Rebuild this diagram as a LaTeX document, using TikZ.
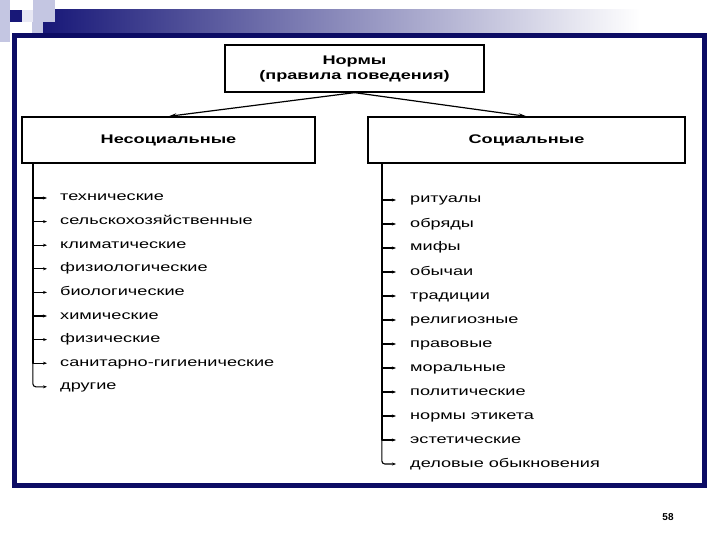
\documentclass[tikz,border=0pt]{standalone}
\usepackage{fontspec}
\setmainfont{Liberation Sans}
\newfontfamily\widefont[FakeStretch=1.45]{Liberation Sans}
\usetikzlibrary{arrows.meta}

\definecolor{framenavy}{RGB}{12,12,100}
\definecolor{barnavy}{RGB}{24,24,120}
\definecolor{lavender}{RGB}{196,198,226}
\definecolor{palelav}{RGB}{232,232,244}

\begin{document}
\begin{tikzpicture}[x=1pt, y=-1pt,
	box/.style={draw, line width=1.3pt, fill=white, align=center, font=\widefont\bfseries\fontsize{12.5}{15}\selectfont},
	entry/.style={anchor=west, inner sep=0pt, text height=6pt, text depth=0pt, font=\widefont\fontsize{12.5}{14}\selectfont},
	link/.style={-{Stealth[length=8pt,width=4pt]}, line width=1.2pt},
	tick/.style={-{Stealth[length=4pt,width=3pt]}, line width=1.1pt},
	bar/.style={line width=1.6pt, line cap=round}]
	\useasboundingbox (0,0) rectangle (720,540);

	% slide decoration
	\shade[left color=barnavy, right color=white] (43,10) rectangle (640,33);
	\fill[white] (640,10) rectangle (720,33);
	\fill[lavender] (0,0) rectangle (10,42);
	\fill[lavender] (33,0) rectangle (55,22);
	\fill[palelav] (22,10) rectangle (33,22);
	\fill[lavender] (32,22) rectangle (43,33);
	\fill[barnavy] (10,10) rectangle (22,22);
	\draw[framenavy, line width=5pt] (14.5,35.5) rectangle (704.5,485.5);

	% boxes
	\node[box, minimum width=259pt, minimum height=47pt] (norms) at (354.5,68.5) {Нормы\\(правила поведения)};
	\node[box, minimum width=293pt, minimum height=46pt] (nonsoc) at (168.5,140) {Несоциальные};
	\node[box, minimum width=317pt, minimum height=46pt] (soc) at (526.5,140) {Социальные};
	\draw[link] (norms.south) -- (nonsoc.north);
	\draw[link] (norms.south) -- (soc.north);

	% left list
	\coordinate (lbar) at ([xshift=11.5pt]nonsoc.south west);
	\foreach \t [count=\i] in {технические, сельскохозяйственные, климатические,
		физиологические, биологические, химические, физические,
		санитарно-гигиенические, другие}
		\node[entry] (l\i) at (60,{198+(\i-1)*23.6}) {\t};
	\draw[bar] (lbar) -- (lbar |- l8.west);
	\foreach \i in {1,...,8}
		\draw[tick] (lbar |- l\i.west) -- ([xshift=-13pt]l\i.west);
	\draw[tick, rounded corners=3pt] (lbar |- l8.west) |- ([xshift=-13pt]l9.west);

	% right list
	\coordinate (rbar) at ([xshift=14.5pt]soc.south west);
	\foreach \t [count=\i] in {ритуалы, обряды, мифы, обычаи, традиции, религиозные,
		правовые, моральные, политические, нормы этикета, эстетические,
		деловые обыкновения}
		\node[entry] (r\i) at (410,{200+(\i-1)*24}) {\t};
	\draw[bar] (rbar) -- (rbar |- r11.west);
	\foreach \i in {1,...,11}
		\draw[tick] (rbar |- r\i.west) -- ([xshift=-14pt]r\i.west);
	\draw[tick, rounded corners=3pt] (rbar |- r11.west) |- ([xshift=-14pt]r12.west);

	\node[font=\bfseries\fontsize{10}{12}\selectfont] (page) at (668,517) {58};

\end{tikzpicture}
\end{document}
